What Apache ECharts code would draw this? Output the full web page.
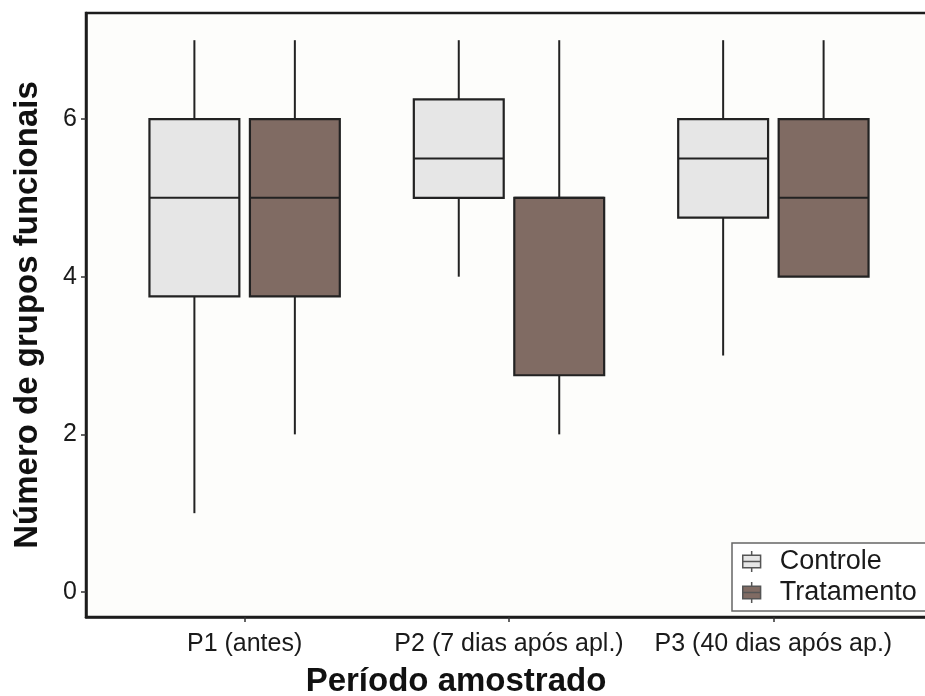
<!DOCTYPE html>
<html>
<head>
<meta charset="utf-8">
<script src="https://cdn.jsdelivr.net/npm/echarts@6/dist/echarts.min.js"></script>
<style>
html,body{margin:0;padding:0;background:#fff;}
#chart{width:925px;height:696px;}
</style>
</head>
<body>
<div id="chart"></div>
<script>
// periodos amostrados
var categorias = ['P1 (antes)', 'P2 (7 dias após apl.)', 'P3 (40 dias após ap.)'];
// [min, Q1, mediana, Q3, max]
var controle = [
	[1, 3.75, 5, 6, 7],
	[4, 5, 5.5, 6.25, 7],
	[3, 4.75, 5.5, 6, 7]
];
var tratamento = [
	[2, 3.75, 5, 6, 7],
	[2, 2.75, 5, 5, 7],
	[4, 4, 5, 6, 7]
];
var yTicks = [0, 2, 4, 6];

var corControle = '#e6e6e6';
var corTratamento = '#806b63';
var corLinha = '#222222';

function boxRender(offset) {
	return function (params, api) {
		var x = api.value(0) + offset;
		var w = api.size([0.34, 0])[0];
		var lo = api.coord([x, api.value(1)]);
		var q1 = api.coord([x, api.value(2)]);
		var md = api.coord([x, api.value(3)]);
		var q3 = api.coord([x, api.value(4)]);
		var hi = api.coord([x, api.value(5)]);
		var cx = lo[0];
		var line = { stroke: corLinha, lineWidth: 2 };
		return {
			type: 'group',
			children: [
				{ type: 'line', shape: { x1: cx, y1: hi[1], x2: cx, y2: q3[1] }, style: line },
				{ type: 'line', shape: { x1: cx, y1: q1[1], x2: cx, y2: lo[1] }, style: line },
				{ type: 'rect', shape: { x: cx - w / 2, y: q3[1], width: w, height: q1[1] - q3[1] },
					style: { fill: api.visual('color'), stroke: corLinha, lineWidth: 2.2 } },
				{ type: 'line', shape: { x1: cx - w / 2, y1: md[1], x2: cx + w / 2, y2: md[1] }, style: line }
			]
		};
	};
}

function montar(stats) {
	return stats.map(function (s, i) { return [i + 1].concat(s); });
}

var icone = 'path://M0,4 L17,4 L17,16 L0,16 Z M0,10 L17,10 M8.5,0 L8.5,4 M8.5,16 L8.5,20';

var chart = echarts.init(document.getElementById('chart'));
chart.setOption({
	backgroundColor: '#ffffff',
	animation: false,
	textStyle: { fontFamily: 'Liberation Sans, Arial, sans-serif' },
	grid: {
		left: 86, top: 13, right: -7, bottom: 79,
		containLabel: false, outerBoundsMode: 'none',
		show: true, backgroundColor: '#fdfdfb', borderColor: '#1c1c1c', borderWidth: 2.5
	},
	legend: {
		orient: 'vertical',
		left: 732, top: 543,
		padding: [5, 40, 5, 10],
		itemGap: 4,
		itemWidth: 18, itemHeight: 21,
		backgroundColor: '#ffffff',
		borderColor: '#666666', borderWidth: 1.5, borderRadius: 0,
		textStyle: { fontSize: 27, color: '#1a1a1a', lineHeight: 26, padding: [0, 0, 0, 14] },
		itemStyle: { borderColor: '#555555', borderWidth: 1.5 },
		data: [
			{ name: 'Controle', icon: icone },
			{ name: 'Tratamento', icon: icone }
		]
	},
	xAxis: {
		type: 'value', min: 0.4, max: 3.6,
		splitLine: { show: false },
		axisLine: { show: true, onZero: false, lineStyle: { color: '#1c1c1c', width: 2.5 } },
		axisTick: { show: true, customValues: [1, 2, 3], length: 5, lineStyle: { color: '#333', width: 1.5 } },
		axisLabel: {
			customValues: [1, 2, 3], margin: 15, fontSize: 25, color: '#1a1a1a',
			formatter: function (v) { return categorias[Math.round(v) - 1]; }
		},
		name: 'Período amostrado',
		nameLocation: 'middle',
		nameGap: 48,
		nameTextStyle: { fontSize: 33, fontWeight: 'bold', color: '#111', padding: [0, 106, 0, 0] }
	},
	yAxis: {
		type: 'value', min: -0.317, max: 7.345,
		splitLine: { show: false },
		axisLine: { show: true, onZero: false, lineStyle: { color: '#1c1c1c', width: 2.5 } },
		axisTick: { show: true, customValues: yTicks, length: 5, lineStyle: { color: '#333', width: 1.5 } },
		axisLabel: { customValues: yTicks, margin: 9, fontSize: 25, color: '#1a1a1a' },
		name: 'Número de grupos funcionais',
		nameLocation: 'middle',
		nameGap: 42,
		nameTextStyle: { fontSize: 33, fontWeight: 'bold', color: '#111' }
	},
	series: [
		{
			name: 'Controle', type: 'custom',
			itemStyle: { color: corControle },
			encode: { x: 0, y: [1, 2, 3, 4, 5] },
			renderItem: boxRender(-0.19),
			data: montar(controle)
		},
		{
			name: 'Tratamento', type: 'custom',
			itemStyle: { color: corTratamento },
			encode: { x: 0, y: [1, 2, 3, 4, 5] },
			renderItem: boxRender(0.19),
			data: montar(tratamento)
		}
	]
});
</script>
</body>
</html>
